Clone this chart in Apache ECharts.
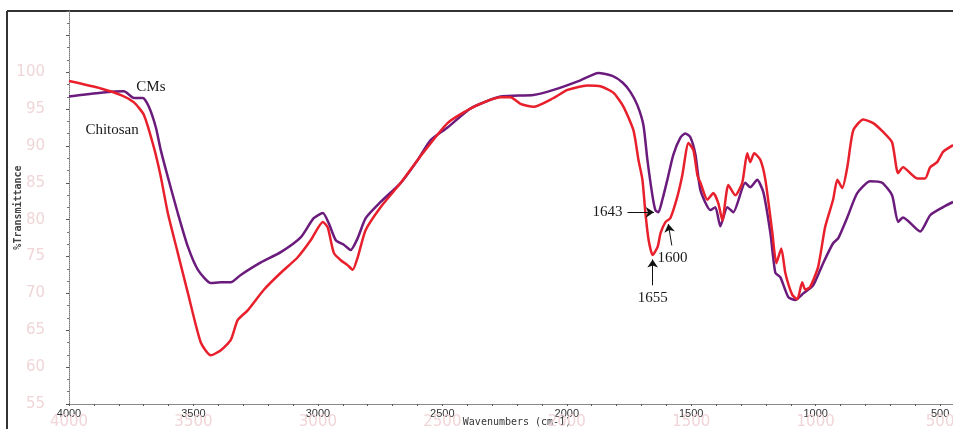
<!DOCTYPE html>
<html>
<head>
<meta charset="utf-8">
<script src="https://cdn.jsdelivr.net/npm/echarts@6/dist/echarts.min.js"></script>
<style>
  html, body { margin: 0; padding: 0; background: #fff; }
  #chart { width: 953px; height: 429px; }
</style>
</head>
<body>
<div id="chart"></div>
<script>
// FTIR spectra (wavenumber cm-1, %T)
var cmsWn = [4000, 3872, 3779, 3739, 3703, 3679, 3651, 3631, 3603, 3563, 3522, 3482, 3430, 3390, 3350, 3310,
  3229, 3149, 3069, 3017, 2980, 2956, 2928, 2896, 2868, 2840, 2808, 2748, 2667, 2599, 2547, 2479, 2386,
  2266, 2134, 2053, 1945, 1873, 1817, 1776, 1744, 1716, 1692, 1676, 1656, 1644, 1632, 1616, 1596, 1572,
  1544, 1524, 1504, 1483, 1463, 1423, 1403, 1383, 1355, 1331, 1283, 1263, 1235, 1210, 1182, 1162, 1142,
  1110, 1082, 1050, 1010, 970, 930, 909, 873, 833, 781, 733, 693, 669, 649, 580, 540, 488, 448];
var cmsT = [96.7, 97.2, 97.4, 96.5, 96.5, 95.3, 92.5, 89.4, 85.8, 80.9, 76.3, 73.2, 71.4, 71.5, 71.5, 72.5,
  74.2, 75.6, 77.6, 80.2, 80.9, 79.5, 77.2, 76.6, 75.9, 77.5, 80.2, 82.4, 85.0, 88.1, 90.8, 92.5, 95.1,
  96.7, 96.9, 97.6, 98.9, 99.9, 99.5, 98.6, 97.3, 95.5, 92.8, 88.1, 83.3, 81.3, 81.0, 82.7, 85.4, 88.8,
  91.1, 91.7, 91.2, 88.8, 84.0, 81.3, 81.7, 79.1, 81.7, 81.0, 85.0, 84.4, 85.4, 83.7, 78.2, 72.8, 72.2,
  69.5, 69.1, 70.0, 71.1, 74.1, 76.8, 77.5, 80.3, 83.6, 85.2, 85.0, 83.3, 79.7, 80.3, 78.4, 80.6, 81.7, 82.4];

var chitosanWn = [4000, 3872, 3791, 3739, 3699, 3659, 3631, 3603, 3563, 3522, 3470, 3430, 3390, 3350, 3322,
  3282, 3217, 3149, 3081, 3029, 2980, 2960, 2936, 2908, 2880, 2860, 2840, 2808, 2748, 2667, 2599, 2479,
  2374, 2266, 2226, 2186, 2134, 2053, 1997, 1917, 1865, 1812, 1772, 1732, 1712, 1696, 1684, 1671, 1655,
  1635, 1623, 1603, 1584, 1556, 1536, 1511, 1491, 1475, 1463, 1435, 1411, 1391, 1375, 1351, 1323, 1295,
  1275, 1263, 1247, 1222, 1202, 1174, 1158, 1138, 1122, 1094, 1074, 1054, 1042, 1022, 990, 962, 930, 913,
  893, 873, 849, 809, 769, 729, 693, 669, 649, 592, 560, 540, 512, 488, 448];
var chitosanT = [98.8, 97.8, 96.9, 95.9, 94.2, 89.8, 85.8, 80.9, 75.5, 70.0, 63.3, 61.6, 62.3, 63.7, 66.4,
  67.7, 70.5, 72.8, 74.9, 77.2, 79.7, 78.9, 75.5, 74.5, 73.8, 73.2, 74.9, 78.6, 81.7, 85.0, 88.1, 93.1,
  95.3, 96.6, 96.6, 95.7, 95.3, 96.5, 97.6, 98.2, 98.1, 97.2, 95.3, 92.1, 88.1, 85.4, 80.9, 77.2, 75.2,
  76.3, 78.2, 79.7, 80.2, 83.1, 86.0, 90.4, 89.4, 86.0, 85.0, 82.7, 83.6, 82.2, 79.9, 84.7, 83.3, 85.0,
  89.0, 87.8, 89.0, 88.1, 85.4, 78.2, 74.1, 76.1, 72.8, 69.8, 69.2, 71.5, 70.5, 70.9, 73.6, 79.0, 82.7, 85.4,
  84.3, 87.1, 92.1, 93.6, 93.1, 91.9, 90.5, 86.3, 87.1, 85.6, 85.6, 87.1, 87.8, 89.2, 90.1];

var xTickLabels = [4000, 3500, 3000, 2500, 2000, 1500, 1000, 500];
var yTickLabels = [55, 60, 65, 70, 75, 80, 85, 90, 95, 100];

function pairs(xs, ys) {
  return xs.map(function (x, i) { return [x, ys[i]]; });
}

var chart = echarts.init(document.getElementById('chart'), null, { renderer: 'canvas' });

var ghost = '#f0d6d8';
var serif = "'Liberation Serif', 'DejaVu Serif', serif";

var option = {
  animation: false,
  backgroundColor: '#ffffff',
  grid: { left: 69, right: -12, top: 11, bottom: 25, containLabel: false, outerBoundsMode: 'none' },
  xAxis: [{
    type: 'value', inverse: true, min: 400, max: 4000, interval: 100,
    name: 'Wavenumbers (cm-1)', nameLocation: 'middle', nameGap: 13, nameMoveOverlap: false,
    nameTextStyle: { fontFamily: "'DejaVu Sans Mono', monospace", fontSize: 10, color: '#333' },
    axisLine: { lineStyle: { color: '#8a8a8a', width: 1 } },
    axisTick: { show: true, length: 2, lineStyle: { color: '#555' } },
    axisLabel: {
      margin: 4, fontSize: 11, color: '#333', fontFamily: "'Liberation Sans', Arial, sans-serif",
      formatter: function (v) { return xTickLabels.indexOf(v) >= 0 ? String(v) : ''; }
    },
    splitLine: { show: false }
  }, {
    type: 'value', inverse: true, min: 400, max: 4000, interval: 100, position: 'bottom',
    axisLine: { show: false }, axisTick: { show: false }, splitLine: { show: false },
    axisLabel: {
      margin: 11, fontSize: 15, color: ghost, fontFamily: "'DejaVu Sans', sans-serif",
      formatter: function (v) { return xTickLabels.indexOf(v) >= 0 ? String(v) : ''; }
    }
  }],
  yAxis: {
    type: 'value', min: 55, max: 108.3, interval: 5,
    name: '%Transmittance', nameLocation: 'middle', nameGap: 46, nameRotate: 90, nameMoveOverlap: false,
    nameTextStyle: { fontFamily: "'DejaVu Sans Mono', monospace", fontSize: 10, color: '#444', fontWeight: 'bold' },
    axisLine: { show: true, lineStyle: { color: '#777', type: 'dotted', width: 1 } },
    axisTick: { show: true, length: 3, inside: false, lineStyle: { color: '#555' } },
    minorTick: { show: true, splitNumber: 3, length: 2, lineStyle: { color: '#777' } },
    axisLabel: {
      margin: 24, fontSize: 15, color: ghost, fontFamily: "'DejaVu Sans', sans-serif",
      formatter: function (v) { return yTickLabels.indexOf(v) >= 0 ? String(v) : ''; }
    },
    splitLine: { show: false }
  },
  graphic: [
    { type: 'line', shape: { x1: 7, y1: 11, x2: 953, y2: 11 }, style: { stroke: '#333', lineWidth: 2 }, silent: true },
    { type: 'line', shape: { x1: 7, y1: 11, x2: 7, y2: 429 }, style: { stroke: '#333', lineWidth: 2 }, silent: true }
  ],
  series: [{
    name: 'CMs', type: 'line', showSymbol: false, smooth: 0.2,
    lineStyle: { color: '#6a1b7c', width: 2.5 },
    data: pairs(cmsWn, cmsT),
    markPoint: {
      silent: true, symbol: 'circle', symbolSize: 0,
      label: { show: true, position: 'inside', formatter: '{b}', fontFamily: serif, fontSize: 15, color: '#1a1a1a' },
      data: [{ name: 'CMs', coord: [3671, 98.0] }]
    },
    markLine: {
      silent: true, symbol: ['none', 'arrow'], symbolSize: 8,
      lineStyle: { color: '#111', width: 1, type: 'solid' },
      label: { show: true, position: 'start', formatter: '{b}', fontFamily: serif, fontSize: 15, color: '#1a1a1a' },
      data: [[{ name: '1643', coord: [1756, 81.0] }, { coord: [1650, 81.0] }]]
    }
  }, {
    name: 'Chitosan', type: 'line', showSymbol: false, smooth: 0.2,
    lineStyle: { color: '#e8202c', width: 2.5 },
    data: pairs(chitosanWn, chitosanT),
    markPoint: {
      silent: true, symbol: 'circle', symbolSize: 0,
      label: { show: true, position: 'inside', formatter: '{b}', fontFamily: serif, fontSize: 15, color: '#1a1a1a' },
      data: [{ name: 'Chitosan', coord: [3827, 92.1] }]
    },
    markLine: {
      silent: true, symbol: ['none', 'arrow'], symbolSize: 8,
      lineStyle: { color: '#111', width: 1, type: 'solid' },
      label: { show: true, position: 'start', formatter: '{b}', fontFamily: serif, fontSize: 15, color: '#1a1a1a' },
      data: [
        [{ name: '1655', coord: [1655, 71.1] }, { coord: [1655, 74.6] }],
        [{ name: '1600', coord: [1578, 76.5] }, { coord: [1592, 79.4] }]
      ]
    }
  }]
};

chart.setOption(option);
</script>
</body>
</html>
